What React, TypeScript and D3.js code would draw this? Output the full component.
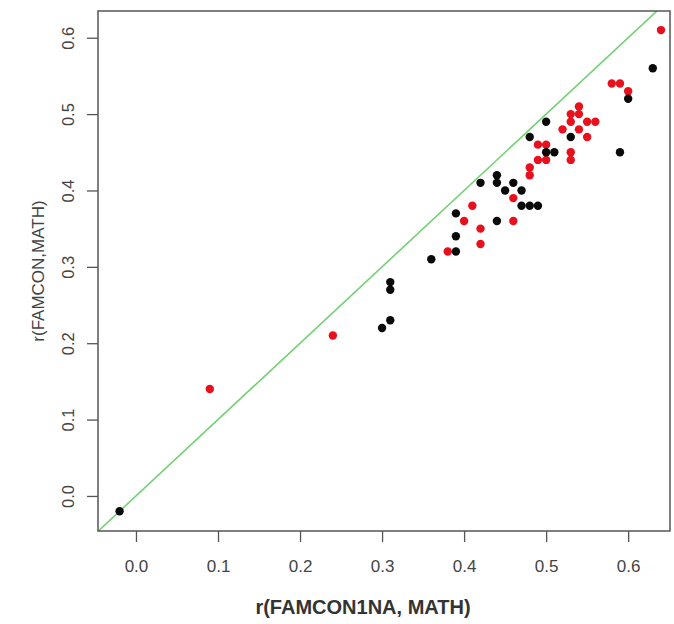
import React, { useEffect, useRef } from 'react';
import * as d3 from 'd3';

// values (rounded correlations)
const blackX = [-0.02, 0.30, 0.31, 0.31, 0.31, 0.36, 0.39, 0.39, 0.39, 0.42, 0.44, 0.44, 0.44, 0.45, 0.46, 0.47, 0.47, 0.48, 0.49, 0.48, 0.50, 0.50, 0.51, 0.53, 0.59, 0.60, 0.63];
const blackY = [-0.02, 0.22, 0.23, 0.27, 0.28, 0.31, 0.32, 0.34, 0.37, 0.41, 0.41, 0.42, 0.36, 0.40, 0.41, 0.40, 0.38, 0.38, 0.38, 0.47, 0.49, 0.45, 0.45, 0.47, 0.45, 0.52, 0.56];

const redX = [0.09, 0.24, 0.38, 0.40, 0.41, 0.42, 0.42, 0.46, 0.46, 0.48, 0.48, 0.49, 0.50, 0.49, 0.50, 0.52, 0.53, 0.53, 0.53, 0.53, 0.54, 0.54, 0.54, 0.55, 0.56, 0.55, 0.58, 0.59, 0.60, 0.64];
const redY = [0.14, 0.21, 0.32, 0.36, 0.38, 0.35, 0.33, 0.39, 0.36, 0.43, 0.42, 0.46, 0.46, 0.44, 0.44, 0.48, 0.49, 0.50, 0.45, 0.44, 0.51, 0.50, 0.48, 0.49, 0.49, 0.47, 0.54, 0.54, 0.53, 0.61];

const xTicks = [0, 0.1, 0.2, 0.3, 0.4, 0.5, 0.6];
const yTicks = [0, 0.1, 0.2, 0.3, 0.4, 0.5, 0.6];

const xTitle = 'r(FAMCON1NA, MATH)';
const yTitle = 'r(FAMCON,MATH)';

const W = 674, H = 624;
const box = { left: 98, right: 670, top: 11, bottom: 531 };

export default function App() {
  const ref = useRef<SVGSVGElement>(null);

  useEffect(() => {
    const svg = d3.select(ref.current);
    svg.selectAll('*').remove();

    const x = d3.scaleLinear().domain([-0.0463, 0.651]).range([box.left, box.right]);
    const y = d3.scaleLinear().domain([-0.0459, 0.635]).range([box.bottom, box.top]);
    const font = 'Arial, "Liberation Sans", sans-serif';

    const plot = svg.append('g');
    plot.append('clipPath').attr('id', 'clip').append('rect')
      .attr('x', box.left).attr('y', box.top)
      .attr('width', box.right - box.left).attr('height', box.bottom - box.top);

    // y = x reference line
    plot.append('line')
      .attr('clip-path', 'url(#clip)')
      .attr('x1', x(-0.1)).attr('y1', y(-0.1))
      .attr('x2', x(0.7)).attr('y2', y(0.7))
      .attr('stroke', '#74d074').attr('stroke-width', 1.6);

    plot.selectAll('circle.red').data(redX).enter().append('circle')
      .attr('class', 'red')
      .attr('cx', (d) => x(d)).attr('cy', (d, i) => y(redY[i])).attr('r', 4.2)
      .attr('fill', '#e8101c');

    plot.selectAll('circle.black').data(blackX).enter().append('circle')
      .attr('class', 'black')
      .attr('cx', (d) => x(d)).attr('cy', (d, i) => y(blackY[i])).attr('r', 4.2)
      .attr('fill', '#0a0a0a');

    // frame
    svg.append('rect')
      .attr('x', box.left).attr('y', box.top)
      .attr('width', box.right - box.left).attr('height', box.bottom - box.top)
      .attr('fill', 'none').attr('stroke', '#555').attr('stroke-width', 1.5);

    // x axis
    const xa = svg.append('g').attr('transform', `translate(0, ${box.bottom})`)
      .call(d3.axisBottom(x).tickValues(xTicks).tickFormat(d3.format('.1f')).tickSize(11).tickPadding(18));
    xa.select('.domain').remove();
    xa.selectAll('line').attr('stroke', '#555').attr('stroke-width', 1.3);
    xa.selectAll('text').attr('font-family', font).attr('font-size', 17).attr('fill', '#444');

    // y axis
    const ya = svg.append('g').attr('transform', `translate(${box.left}, 0)`)
      .call(d3.axisLeft(y).tickValues(yTicks).tickFormat(d3.format('.1f')).tickSize(11).tickPadding(0));
    ya.select('.domain').remove();
    ya.selectAll('line').attr('stroke', '#555').attr('stroke-width', 1.3);
    ya.selectAll('text')
      .attr('font-family', font).attr('font-size', 16.5).attr('fill', '#444')
      .attr('x', 0).attr('dy', null)
      .attr('text-anchor', 'middle')
      .attr('transform', 'translate(-24, 0) rotate(-90)');

    svg.append('text')
      .attr('x', 363).attr('y', 614)
      .attr('text-anchor', 'middle')
      .attr('font-family', font).attr('font-size', 20).attr('font-weight', 'bold')
      .attr('fill', '#333')
      .text(xTitle);

    svg.append('text')
      .attr('transform', `translate(44, ${(box.top + box.bottom) / 2}) rotate(-90)`)
      .attr('text-anchor', 'middle')
      .attr('font-family', font).attr('font-size', 17)
      .attr('fill', '#444')
      .text(yTitle);
  }, []);

  return (
    <svg ref={ref} width={W} height={H}
      style={{ position: 'absolute', left: 0, top: 0, background: '#fff' }} />
  );
}
